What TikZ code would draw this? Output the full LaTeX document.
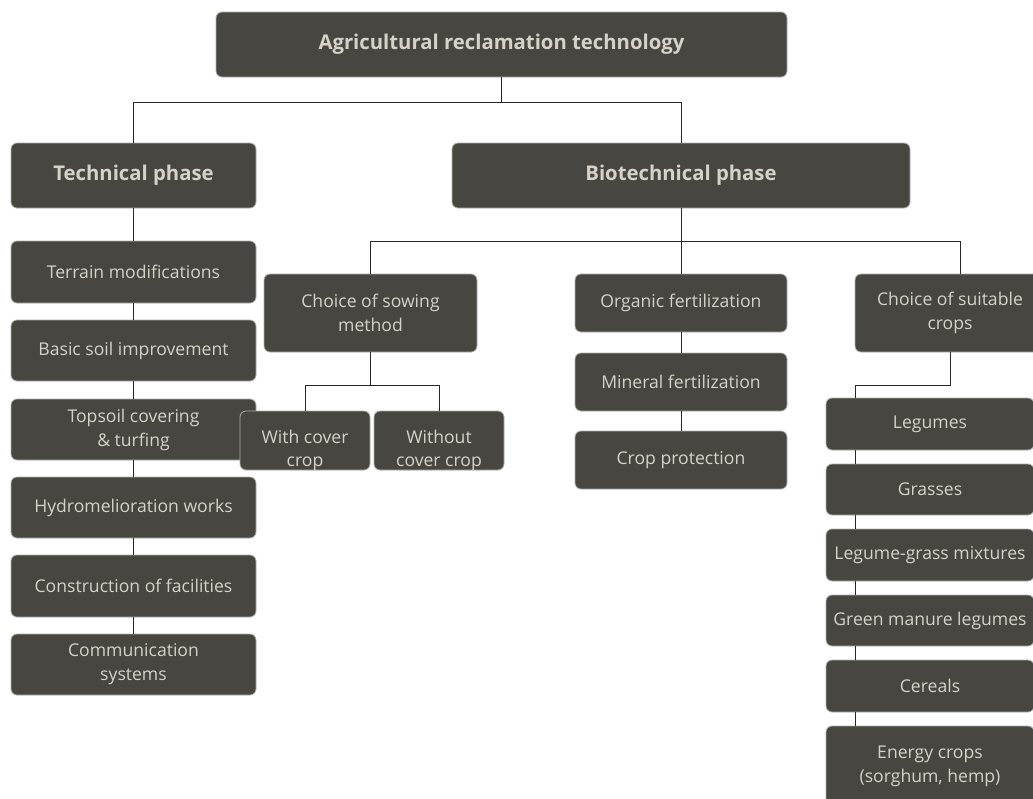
\documentclass[tikz,border=0pt]{standalone}
\usepackage{fontspec}
\setmainfont{Open Sans}
\definecolor{boxfill}{RGB}{71,70,65}
\definecolor{boxtext}{RGB}{214,210,200}
\definecolor{boxline}{RGB}{175,175,170}
\definecolor{linecol}{RGB}{40,40,40}
\begin{document}
\begin{tikzpicture}[x=1pt,y=-1pt,
  box/.style={draw=boxline, line width=0.8pt, fill=boxfill, rounded corners=6pt,
    text=boxtext, inner sep=0pt, align=center, font=\fontsize{17.6}{24}\selectfont},
  head/.style={box, font=\fontsize{20.3}{24}\selectfont\bfseries},
  txt/.style={text=boxtext, inner sep=0pt, align=center, font=\fontsize{17.6}{23}\selectfont},
  conn/.style={draw=linecol, line width=0.9pt}]
\useasboundingbox (0,0) rectangle (1033,798);
\clip (0,0) rectangle (1033,798);
% headings
\node[head, minimum width=571pt, minimum height=65pt] (top) at (501.5,44.5) {Agricultural reclamation technology};
\node[head, minimum width=245pt, minimum height=65pt] (tech) at (133.5,175.5) {Technical phase};
\node[head, minimum width=458pt, minimum height=65pt] (bio) at (681,175.5) {Biotechnical phase};
% technical column
\node[box, minimum width=245pt, minimum height=62pt] (t1) at (133.5,272) {Terrain modifications};
\node[box, minimum width=245pt, minimum height=61pt] (t2) at (133.5,350.5) {Basic soil improvement};
\node[box, minimum width=245pt, minimum height=61pt] (t3) at (133.5,429.5) {Topsoil covering\\\& turfing};
\node[box, minimum width=245pt, minimum height=61pt] (t4) at (133.5,507.5) {Hydromelioration works};
\node[box, minimum width=245pt, minimum height=62pt] (t5) at (133.5,586) {Construction of facilities};
\node[box, minimum width=245pt, minimum height=61pt] (t6) at (133.5,664.5) {Communication\\systems};
% sowing
\node[box, minimum width=213pt, minimum height=78pt] (sow) at (370.5,313) {Choice of sowing\\method};
\node[box, minimum width=130pt, minimum height=59pt] (wc) at (305,440.5) {};
\node[txt] (wcT) at (305,450) {With cover\\crop};
\node[box, minimum width=130pt, minimum height=59pt] (woc) at (439,440.5) {};
\node[txt] (wocT) at (439,450) {Without\\cover crop};
% fertilization
\node[box, minimum width=212pt, minimum height=58pt] (org) at (681,303) {Organic fertilization};
\node[box, minimum width=212pt, minimum height=58pt] (min) at (681,382) {Mineral fertilization};
\node[box, minimum width=212pt, minimum height=58pt] (prot) at (681,460) {Crop protection};
% crops
\node[box, minimum width=190pt, minimum height=78pt] (suit) at (950,313) {Choice of suitable\\crops};
\node[box, minimum width=208pt, minimum height=52pt] (leg) at (930,424) {Legumes};
\node[box, minimum width=208pt, minimum height=51pt] (gra) at (930,489.5) {Grasses};
\node[box, minimum width=208pt, minimum height=52pt] (lgm) at (930,555) {Legume-grass mixtures};
\node[box, minimum width=208pt, minimum height=51pt] (gml) at (930,620.5) {Green manure legumes};
\node[box, minimum width=208pt, minimum height=52pt] (cer) at (930,686) {Cereals};
\node[box, minimum width=208pt, minimum height=80pt] (ene) at (930,766) {Energy crops\\(sorghum, hemp)};
% junctions
\coordinate (j1) at (501.5,102);
\coordinate (j2) at (681,241);
\coordinate (sj) at (960,241);
\coordinate (j3) at (370.5,385);
\coordinate (rc) at (855,385);
% connectors
\draw[conn] (top.south) -- (j1) -| (tech.north);
\draw[conn] (j1) -| (bio.north);
\draw[conn] (bio.south) -- (j2) -| (sow.north);
\draw[conn] (j2) -- (org.north);
\draw[conn] (j2) -- (sj) -- (sj |- suit.north);
\draw[conn] (tech.south) -- (t1.north);
\draw[conn] (t1.south) -- (t2.north);
\draw[conn] (t2.south) -- (t3.north);
\draw[conn] (t3.south) -- (t4.north);
\draw[conn] (t4.south) -- (t5.north);
\draw[conn] (t5.south) -- (t6.north);
\draw[conn] (sow.south) -- (j3) -| (wc.north);
\draw[conn] (j3) -| (woc.north);
\draw[conn] (org.south) -- (min.north);
\draw[conn] (min.south) -- (prot.north);
\draw[conn] (suit.south) |- (rc) -- (rc |- leg.north);
\draw[conn] (leg.south -| rc) -- (gra.north -| rc);
\draw[conn] (gra.south -| rc) -- (lgm.north -| rc);
\draw[conn] (lgm.south -| rc) -- (gml.north -| rc);
\draw[conn] (gml.south -| rc) -- (cer.north -| rc);
\draw[conn] (cer.south -| rc) -- (ene.north -| rc);
\end{tikzpicture}
\end{document}
